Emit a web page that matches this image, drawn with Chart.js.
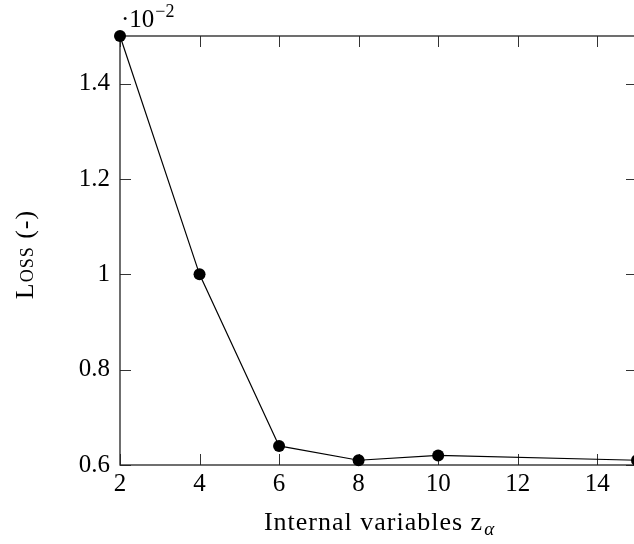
<!DOCTYPE html>
<html>
<head>
<meta charset="utf-8">
<script src="https://cdn.jsdelivr.net/npm/chart.js@4"></script>
<style>
html,body{margin:0;padding:0;background:#fff;overflow:hidden;}
#wrap{width:660px;height:544px;}
</style>
</head>
<body>
<div id="wrap"><canvas id="c" width="660" height="544"></canvas></div>
<script>
// Data (loss values in units of 1e-2)
const xValues = [2, 4, 6, 8, 10, 15];
const lossValues = [1.5, 1.0, 0.64, 0.61, 0.62, 0.61];
const xTicks = [2, 4, 6, 8, 10, 12, 14];
const yTicks = [0.6, 0.8, 1.0, 1.2, 1.4];
const yTickLabels = ['0.6', '0.8', '1', '1.2', '1.4'];
const xTitle = 'Internal variables z';
const xTitleSub = 'α';
const yTitle = 'Loss (-)';
const scaleLabel = '·10';
const scaleExp = '−2';

const FONT = '"Liberation Serif", "DejaVu Serif", serif';
const TICK_LEN = 11;
const AXIS_COLOR = '#333';

const frame = {
  id: 'frame',
  beforeDatasetsDraw(chart) {
    const {ctx, chartArea: a, scales} = chart;
    ctx.save();
    ctx.strokeStyle = AXIS_COLOR;
    ctx.lineWidth = 1;
    ctx.beginPath();
    scales.x.ticks.forEach(t => {
      const px = Math.round(scales.x.getPixelForValue(t.value)) + 0.5;
      ctx.moveTo(px, a.bottom); ctx.lineTo(px, a.bottom - TICK_LEN);
      ctx.moveTo(px, a.top); ctx.lineTo(px, a.top + TICK_LEN);
    });
    scales.y.ticks.forEach(t => {
      const py = Math.round(scales.y.getPixelForValue(t.value)) + 0.5;
      ctx.moveTo(a.left, py); ctx.lineTo(a.left + TICK_LEN, py);
      ctx.moveTo(a.right, py); ctx.lineTo(a.right - TICK_LEN, py);
    });
    ctx.stroke();
    ctx.lineWidth = 1.3;
    ctx.strokeStyle = '#222';
    ctx.strokeRect(a.left, a.top, a.right - a.left, a.bottom - a.top);
    ctx.restore();
  },
  afterDraw(chart) {
    const {ctx, chartArea: a} = chart;
    ctx.save();
    ctx.fillStyle = '#000';
    ctx.textBaseline = 'alphabetic';
    // x title with subscript
    ctx.letterSpacing = '1px';
    ctx.font = '26px ' + FONT;
    const w1 = ctx.measureText(xTitle).width;
    ctx.letterSpacing = '0px';
    ctx.font = 'italic 19px ' + FONT;
    const w2 = ctx.measureText(xTitleSub).width;
    const cx = (a.left + a.right) / 2;
    const x0 = cx - (w1 + w2) / 2;
    ctx.textAlign = 'left';
    ctx.letterSpacing = '1px';
    ctx.font = '26px ' + FONT;
    ctx.fillText(xTitle, x0, 530);
    ctx.letterSpacing = '0px';
    ctx.font = 'italic 19px ' + FONT;
    ctx.fillText(xTitleSub, x0 + w1 + 1, 535);
    // y title (small caps), rotated
    ctx.save();
    ctx.translate(33, (a.top + a.bottom) / 2 + 4);
    ctx.rotate(-Math.PI / 2);
    ctx.textAlign = 'center';
    ctx.letterSpacing = '1px';
    ctx.font = 'small-caps 26px ' + FONT;
    ctx.fillText(yTitle, 0, 0);
    ctx.restore();
    // scale label
    ctx.letterSpacing = '0px';
    ctx.textAlign = 'left';
    ctx.font = '25px ' + FONT;
    ctx.fillText(scaleLabel, a.left + 1, 27);
    const ws = ctx.measureText(scaleLabel).width;
    ctx.font = '18px ' + FONT;
    ctx.fillText(scaleExp, a.left + 2 + ws, 17);
    ctx.restore();
  }
};

new Chart(document.getElementById('c'), {
  type: 'line',
  data: {
    datasets: [{
      data: xValues.map((x, i) => ({x: x, y: lossValues[i]})),
      borderColor: '#000',
      borderWidth: 1.2,
      backgroundColor: '#000',
      pointBackgroundColor: '#000',
      pointBorderColor: '#000',
      pointRadius: 6,
      pointBorderWidth: 0,
      tension: 0,
      clip: false
    }]
  },
  options: {
    responsive: false,
    animation: false,
    devicePixelRatio: 1,
    layout: {padding: {top: 36, right: 23, left: 0, bottom: 0}},
    plugins: {legend: {display: false}, tooltip: {enabled: false}},
    scales: {
      x: {
        type: 'linear',
        min: 2, max: 15,
        afterBuildTicks: s => { s.ticks = xTicks.map(v => ({value: v})); },
        afterFit: s => { s.height = 79; },
        grid: {display: false, drawTicks: false},
        border: {display: false},
        ticks: {
          color: '#000',
          font: {family: FONT, size: 25},
          padding: 4,
          maxRotation: 0,
          callback: v => String(v)
        }
      },
      y: {
        type: 'linear',
        min: 0.6, max: 1.5,
        afterBuildTicks: s => { s.ticks = yTicks.map(v => ({value: v})); },
        afterFit: s => { s.width = 120; },
        grid: {display: false, drawTicks: false},
        border: {display: false},
        ticks: {
          color: '#000',
          font: {family: FONT, size: 25},
          padding: 10,
          callback: (v) => { const i = yTicks.findIndex(t => Math.abs(t - v) < 1e-9); return i >= 0 ? yTickLabels[i] : ''; }
        }
      }
    }
  },
  plugins: [frame]
});
</script>
</body>
</html>
